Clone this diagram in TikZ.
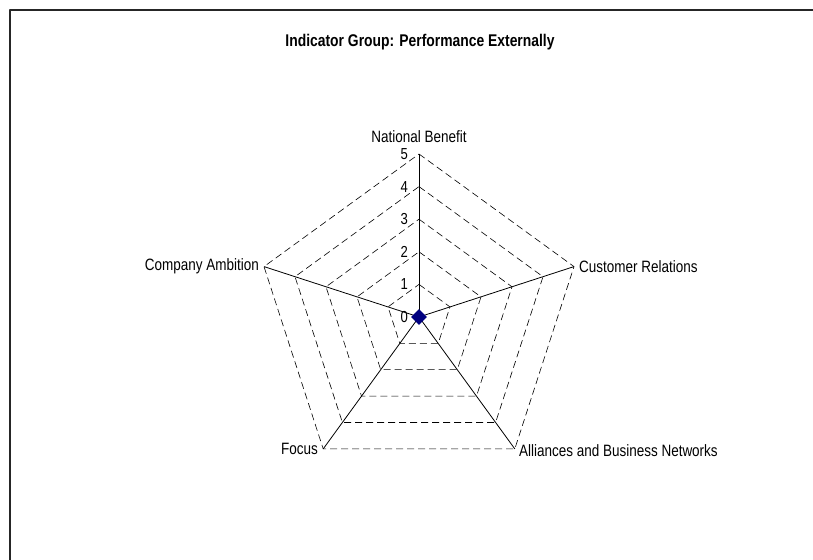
\documentclass[tikz,border=0pt]{standalone}
\usepackage{fontspec}
\setmainfont{Liberation Sans}[FakeStretch=0.82]
\usetikzlibrary{shapes.geometric}
\tikzset{
  axislabel/.style={inner sep=1bp,font=\fontsize{16.5}{17}\selectfont},
  ticklabel/.style={anchor=east,inner sep=0bp,font=\fontsize{16}{17}\selectfont},
  gridline/.style={black,dash pattern=on 7bp off 4bp,line width=0.6bp},
  axisline/.style={black,line width=0.8bp},
}
\begin{document}
\begin{tikzpicture}[x=1bp,y=1bp,line join=bevel]
\useasboundingbox (0bp,0bp) rectangle (813bp,560bp);
\clip (0bp,0bp) rectangle (813bp,560bp);
%% frame and title
\draw [black!85,line width=2bp] (10bp,-5bp) -- (10bp,550bp) -- (820bp,550bp);
\node (title) at (420.0bp,518.0bp) [draw=none,font=\bfseries\fontsize{17}{18}\selectfont] {Indicator Group: Performance Externally};
%% centre and axis ends
\coordinate (centre) at (419.0bp,243.0bp);
\coordinate (end_nb) at (419.0bp,406.0bp);
\coordinate (end_cr) at (574.0bp,293.4bp);
\coordinate (end_ab) at (514.8bp,111.1bp);
\coordinate (end_fo) at (323.2bp,111.1bp);
\coordinate (end_ca) at (264.0bp,293.4bp);
%% grid
\draw [gridline] (419.0bp,275.6bp) -- (450.0bp,253.1bp) -- (438.2bp,216.6bp) -- (399.8bp,216.6bp) -- (388.0bp,253.1bp) -- cycle;
\draw [gridline] (419.0bp,308.2bp) -- (481.0bp,263.1bp) -- (457.3bp,190.3bp) -- (380.7bp,190.3bp) -- (357.0bp,263.1bp) -- cycle;
\draw [gridline] (419.0bp,340.8bp) -- (512.0bp,273.2bp) -- (476.5bp,163.9bp) -- (361.5bp,163.9bp) -- (326.0bp,273.2bp) -- cycle;
\draw [gridline] (419.0bp,373.4bp) -- (543.0bp,283.3bp) -- (495.6bp,137.5bp) -- (342.4bp,137.5bp) -- (295.0bp,283.3bp) -- cycle;
\draw [gridline] (end_nb) -- (end_cr) -- (end_ab) -- (end_fo) -- (end_ca) -- cycle;
%% axes
\draw [axisline] (centre) -- (end_nb);
\draw [axisline] (centre) -- (end_cr);
\draw [axisline] (centre) -- (end_ab);
\draw [axisline] (centre) -- (end_fo);
\draw [axisline] (centre) -- (end_ca);
%% value labels
\node (tick_0) at (408.0bp,243.0bp) [ticklabel] {0};
\node (tick_1) at (408.0bp,275.6bp) [ticklabel] {1};
\node (tick_2) at (408.0bp,308.2bp) [ticklabel] {2};
\node (tick_3) at (408.0bp,340.8bp) [ticklabel] {3};
\node (tick_4) at (408.0bp,373.4bp) [ticklabel] {4};
\node (tick_5) at (408.0bp,406.0bp) [ticklabel] {5};
%% category labels
\node (label_nb) at (419.0bp,423.0bp) [axislabel] {National Benefit};
\node (label_cr) at (578.0bp,293.4bp) [axislabel,anchor=west] {Customer Relations};
\node (label_ab) at (518.0bp,109.0bp) [axislabel,anchor=west] {Alliances and Business Networks};
\node (label_fo) at (319.0bp,111.0bp) [axislabel,anchor=east] {Focus};
\node (label_ca) at (260.0bp,293.4bp) [axislabel,anchor=east] {Company Ambition};
%% data point
\node (point) at (centre) [diamond,fill={rgb,255:red,0;green,0;blue,128},draw=none,inner sep=0bp,minimum width=16bp,minimum height=16bp] {};
%
\end{tikzpicture}
\end{document}
